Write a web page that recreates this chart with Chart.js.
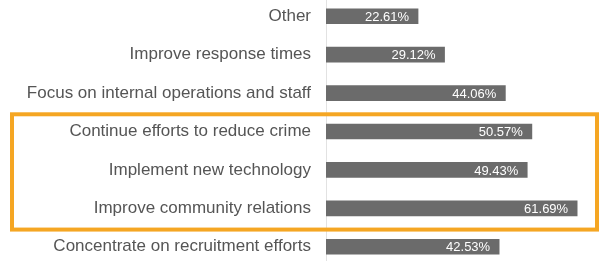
<!DOCTYPE html>
<html>
<head>
<meta charset="utf-8">
<script src="https://cdn.jsdelivr.net/npm/chart.js@4/dist/chart.umd.min.js"></script>
<style>
  html, body { margin: 0; padding: 0; background: #fff; overflow: hidden; }
  #wrap { position: absolute; left: 0; top: -3px; width: 600px; height: 269px; }
</style>
</head>
<body>
<div id="wrap"><canvas id="chart"></canvas></div>
<script>
// survey answers, top to bottom
var categories = [
  "Other",
  "Improve response times",
  "Focus on internal operations and staff",
  "Continue efforts to reduce crime",
  "Implement new technology",
  "Improve community relations",
  "Concentrate on recruitment efforts"
];
var values = [22.61, 29.12, 44.06, 50.57, 49.43, 61.69, 42.53];
var highlighted = [3, 4, 5];

// white % text at the end of each bar
var valueLabels = {
  id: "valueLabels",
  afterDatasetsDraw: function(chart) {
    var ctx = chart.ctx;
    var meta = chart.getDatasetMeta(0);
    ctx.save();
    ctx.fillStyle = "#ffffff";
    ctx.font = "13px 'Liberation Sans', Arial, sans-serif";
    ctx.textAlign = "right";
    ctx.textBaseline = "middle";
    meta.data.forEach(function(bar, i) {
      ctx.fillText(values[i].toFixed(2) + "%", bar.x - 9, bar.y + 1);
    });
    ctx.restore();
  }
};

// orange box round the highlighted rows
var highlightBox = {
  id: "highlightBox",
  afterDraw: function(chart) {
    var y = chart.scales.y;
    var half = (y.getPixelForValue(1) - y.getPixelForValue(0)) / 2;
    var top = y.getPixelForValue(highlighted[0]) - half + 2;
    var bottom = y.getPixelForValue(highlighted[highlighted.length - 1]) + half + 2;
    var ctx = chart.ctx;
    ctx.save();
    ctx.strokeStyle = "#f5a623";
    ctx.lineWidth = 4;
    ctx.strokeRect(12, top, 585, bottom - top);
    ctx.restore();
  }
};

new Chart(document.getElementById("chart"), {
  type: "bar",
  data: {
    labels: categories,
    datasets: [{
      data: values,
      backgroundColor: "#6b6b6b",
      barThickness: 15
    }]
  },
  options: {
    indexAxis: "y",
    responsive: true,
    maintainAspectRatio: false,
    animation: false,
    layout: { padding: 0 },
    plugins: { legend: { display: false }, tooltip: { enabled: false } },
    scales: {
      x: { display: false, min: 0, max: 67.3 },
      y: {
        afterFit: function(scale) {
          scale.width = 326;
          scale.paddingTop = 0;
          scale.paddingBottom = 0;
        },
        grid: { display: false, drawTicks: false },
        border: { display: true, color: "#e2e2e2", width: 1 },
        ticks: {
          padding: 15,
          color: "#555555",
          font: { family: "'Liberation Sans', Arial, sans-serif", size: 17 }
        }
      }
    }
  },
  plugins: [valueLabels, highlightBox]
});
</script>
</body>
</html>
